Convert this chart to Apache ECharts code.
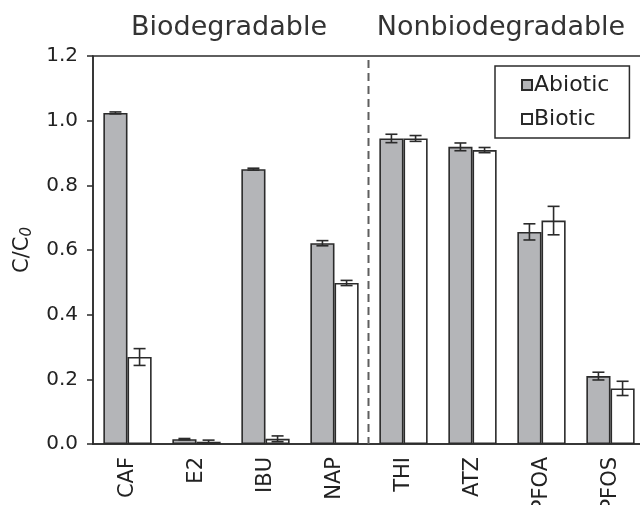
<!DOCTYPE html>
<html>
<head>
<meta charset="utf-8">
<script src="https://cdn.jsdelivr.net/npm/echarts@6/dist/echarts.min.js"></script>
<style>
  html, body { margin: 0; padding: 0; background: #fff; }
  #chart { width: 640px; height: 505px; }
</style>
</head>
<body>
<div id="chart"></div>
<script>
// compounds, grouped: first four biodegradable, last four not
const categories = ['CAF', 'E2', 'IBU', 'NAP', 'THI', 'ATZ', 'PFOA', 'PFOS']
const abiotic = [1.024, 0.015, 0.850, 0.621, 0.945, 0.919, 0.656, 0.210]
const abioticErr = [0.003, 0.002, 0.003, 0.008, 0.013, 0.012, 0.025, 0.012]
const biotic = [0.269, 0.007, 0.016, 0.498, 0.945, 0.909, 0.691, 0.172]
const bioticErr = [0.026, 0.005, 0.009, 0.008, 0.009, 0.008, 0.044, 0.022]
const groupNames = ['Biodegradable', 'Nonbiodegradable']
const dividerIndex = 3 // dashed line sits after NAP

const FONT = 'DejaVu Sans'
const INK = '#2b2b2b'
const BAR_W = 0.35

// [index, mean, err, side]
const errData = []
abiotic.forEach((v, i) => errData.push([i, v, abioticErr[i], 0]))
biotic.forEach((v, i) => errData.push([i, v, bioticErr[i], 1]))

function renderErr(params, api) {
  const i = api.value(0)
  const mean = api.value(1)
  const e = api.value(2)
  const side = api.value(3)
  const band = api.size([1, 0])[0]
  const bw = band * BAR_W
  const cx = api.coord([i, mean])[0] + (side === 0 ? -bw / 2 : bw / 2)
  const top = api.coord([i, mean + e])[1]
  const bot = api.coord([i, mean - e])[1]
  const cap = 6
  const style = { stroke: INK, lineWidth: 1.6 }
  return {
    type: 'group',
    children: [
      { type: 'line', shape: { x1: cx, y1: top, x2: cx, y2: bot }, style },
      { type: 'line', shape: { x1: cx - cap, y1: top, x2: cx + cap, y2: top }, style },
      { type: 'line', shape: { x1: cx - cap, y1: bot, x2: cx + cap, y2: bot }, style },
    ],
  }
}

function renderDivider(params, api) {
  const a = api.coord([dividerIndex, 0])
  const b = api.coord([dividerIndex + 1, 0])
  const x = (a[0] + b[0]) / 2 - 0.5
  const top = api.coord([dividerIndex, 1.2])[1]
  return {
    type: 'line',
    shape: { x1: x, y1: top + 4, x2: x, y2: a[1] },
    style: { stroke: '#5e5e5e', lineWidth: 2, lineDash: [8, 5] },
  }
}

const chart = echarts.init(document.getElementById('chart'))

chart.setOption({
  animation: false,
  textStyle: { fontFamily: FONT },
  graphic: [
    {
      type: 'text', x: 229, y: 14,
      style: { text: groupNames[0], align: 'center', fontFamily: FONT, fontSize: 27, fill: '#333' },
    },
    {
      type: 'text', x: 501, y: 14,
      style: { text: groupNames[1], align: 'center', fontFamily: FONT, fontSize: 27, fill: '#333' },
    },
  ],
  legend: {
    orient: 'vertical',
    left: 495,
    top: 66,
    padding: [8, 20, 8, 26],
    itemGap: 12,
    itemWidth: 10,
    itemHeight: 10,
    borderColor: INK,
    borderWidth: 1.5,
    borderRadius: 0,
    icon: 'rect',
    textStyle: { fontFamily: FONT, fontSize: 22, color: '#222', padding: [0, 0, 0, -3] },
    data: ['Abiotic', 'Biotic'],
  },
  grid: {
    left: 93, top: 56, width: 552, height: 388,
    outerBoundsMode: 'none',
    show: true, borderColor: INK, borderWidth: 1.5, backgroundColor: 'transparent',
  },
  xAxis: {
    type: 'category',
    data: categories,
    axisLine: { lineStyle: { color: INK, width: 1.5 } },
    axisTick: { show: false },
    axisLabel: { rotate: 90, margin: 13, fontFamily: FONT, fontSize: 21, color: '#222' },
  },
  yAxis: {
    type: 'value',
    min: 0,
    max: 1.2,
    interval: 0.2,
    name: '{n|C/C}{s|0}',
    nameLocation: 'middle',
    nameGap: 58,
    nameTextStyle: {
      rich: {
        n: { fontFamily: FONT, fontSize: 21, color: '#222' },
        s: { fontFamily: FONT, fontSize: 15, fontStyle: 'italic', color: '#222', verticalAlign: 'bottom', padding: [9, 0, 0, 0] },
      },
    },
    axisLine: { show: true, lineStyle: { color: INK, width: 1.5 } },
    axisTick: { show: true, length: 6, lineStyle: { color: INK, width: 1.5 } },
    splitLine: { show: false },
    axisLabel: {
      margin: 15, fontFamily: FONT, fontSize: 20, color: '#222',
      formatter: (v) => v.toFixed(1),
    },
  },
  series: [
    {
      name: 'Abiotic',
      type: 'bar',
      data: abiotic,
      barWidth: BAR_W * 100 + '%',
      barGap: '0%',
      itemStyle: { color: '#b4b5b8', borderColor: INK, borderWidth: 1.6 },
    },
    {
      name: 'Biotic',
      type: 'bar',
      data: biotic,
      barWidth: BAR_W * 100 + '%',
      itemStyle: { color: '#ffffff', borderColor: INK, borderWidth: 1.6 },
    },
    {
      type: 'custom',
      data: errData,
      encode: { x: 0, y: 1 },
      renderItem: renderErr,
      z: 10,
      silent: true,
    },
    {
      type: 'custom',
      data: [[dividerIndex, 0]],
      encode: { x: 0, y: 1 },
      renderItem: renderDivider,
      silent: true,
    },
  ],
})
</script>
</body>
</html>
